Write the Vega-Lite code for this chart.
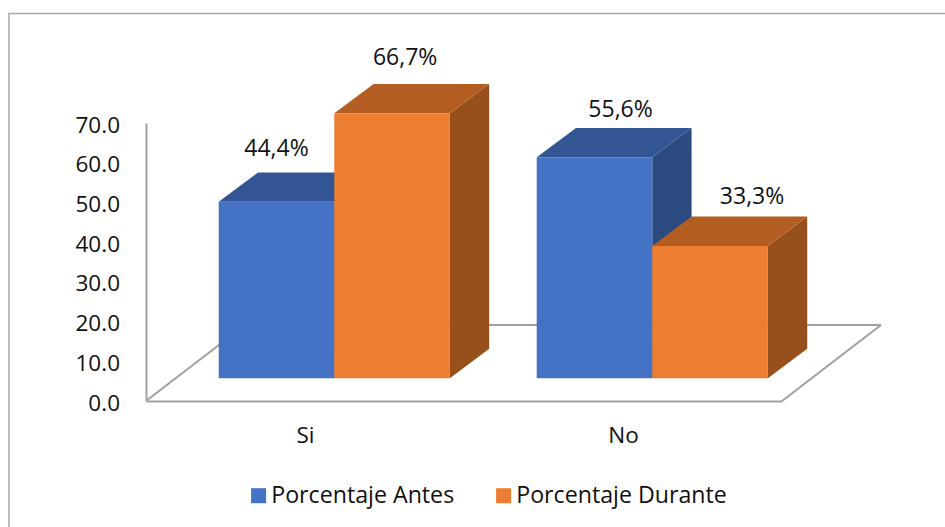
{
  "$schema": "https://vega.github.io/schema/vega-lite/v6.json",
  "width": 636,
  "height": 278,
  "autosize": "none",
  "padding": {"left": 146, "top": 123, "right": 163, "bottom": 126},
  "background": "white",
  "config": {
    "font": "Open Sans",
    "view": {"stroke": null},
    "text": {"font": "Open Sans"}
  },
  "layer": [
    {
      "description": "Value axis line, category axis and the chart frame",
      "data": {"values": [{}]},
      "mark": {"type": "rect", "fill": null, "stroke": "#a9a9a9", "strokeWidth": 1.5},
      "encoding": {
        "x": {"datum": -0.431, "type": "quantitative", "scale": {"domain": [0, 2], "nice": false, "zero": false}, "axis": {"values": [0.5, 1.5], "labelExpr": "datum.value < 1 ? 'Si' : 'No'", "title": null, "grid": false, "ticks": false, "domainColor": "#a0a0a0", "domainWidth": 2, "labelFontSize": 22.5, "labelColor": "#111111", "labelPadding": 23, "labelFont": "Open Sans"}},
        "x2": {"datum": 3},
        "y": {"datum": 97.6, "type": "quantitative", "scale": {"domain": [0, 70], "nice": false}, "axis": {"labels": false, "title": null, "grid": false, "ticks": false, "domainColor": "#a0a0a0", "domainWidth": 2}},
        "y2": {"datum": -40}
      }
    },
    {
      "description": "Value axis tick labels, one row per ten percent",
      "data": {"values": [{"marca": 0}, {"marca": 10}, {"marca": 20}, {"marca": 30}, {"marca": 40}, {"marca": 50}, {"marca": 60}, {"marca": 70}]},
      "mark": {"type": "text", "align": "right", "baseline": "middle", "dx": -26, "dy": 2.5, "fontSize": 22.5, "color": "#111111"},
      "encoding": {
        "x": {"datum": 0, "type": "quantitative"},
        "y": {"field": "marca", "type": "quantitative"},
        "text": {"field": "marca", "type": "quantitative", "format": ".1f"}
      }
    },
    {
      "description": "Floor of the 3D plot: left edge, back edge, right edge",
      "data": {"values": [{}]},
      "mark": {"type": "rule", "color": "#a0a0a0", "strokeWidth": 2},
      "encoding": {"x": {"datum": 0, "type": "quantitative"}, "x2": {"datum": 0.3113}, "y": {"datum": 0, "type": "quantitative"}, "y2": {"datum": 19.14}}
    },
    {
      "data": {"values": [{}]},
      "mark": {"type": "rule", "color": "#a0a0a0", "strokeWidth": 2},
      "encoding": {"x": {"datum": 0.3113, "type": "quantitative"}, "x2": {"datum": 2.3113}, "y": {"datum": 19.14, "type": "quantitative"}, "y2": {"datum": 19.14}}
    },
    {
      "data": {"values": [{}]},
      "mark": {"type": "rule", "color": "#a0a0a0", "strokeWidth": 2},
      "encoding": {"x": {"datum": 2, "type": "quantitative"}, "x2": {"datum": 2.3113}, "y": {"datum": 0, "type": "quantitative"}, "y2": {"datum": 19.14}}
    },
    {
      "data": {"values": [
        {"categoria": "Si", "serie": "Porcentaje Antes", "valor": 44.4},
        {"categoria": "Si", "serie": "Porcentaje Durante", "valor": 66.7},
        {"categoria": "No", "serie": "Porcentaje Antes", "valor": 55.6},
        {"categoria": "No", "serie": "Porcentaje Durante", "valor": 33.3}
      ]},
      "transform": [
        {"calculate": "datum.categoria + '|' + datum.serie", "as": "barra"},
        {"calculate": "(datum.categoria === 'Si' ? 0 : 1) + 0.2286 + (datum.serie === 'Porcentaje Antes' ? 0 : 0.3635)", "as": "izq"},
        {"calculate": "datum.izq + 0.3635", "as": "der"},
        {"calculate": "datum.valor + 5.75", "as": "techo"}
      ],
      "layer": [
        {
          "description": "Side face of each bar, sheared back by the chart depth",
          "transform": [
            {"calculate": "[0, 1]", "as": "t"},
            {"flatten": ["t"]},
            {"calculate": "datum.der + datum.t * 0.1236", "as": "px"},
            {"calculate": "datum.techo + datum.t * 7.4", "as": "py"},
            {"calculate": "5.75 + datum.t * 7.4", "as": "py2"}
          ],
          "mark": {"type": "area", "line": false},
          "encoding": {
            "x": {"field": "px", "type": "quantitative"},
            "y": {"field": "py", "type": "quantitative", "stack": null},
            "y2": {"field": "py2"},
            "detail": {"field": "barra"},
            "fill": {"condition": {"test": "datum.serie === 'Porcentaje Antes'", "value": "#2a4a80"}, "value": "#974f1c"}
          }
        },
        {
          "description": "Top face of each bar",
          "transform": [
            {"calculate": "[0, 1, 2, 3]", "as": "t"},
            {"flatten": ["t"]},
            {"calculate": "datum.t === 0 ? datum.izq : datum.t === 1 ? datum.izq + 0.1236 : datum.t === 2 ? datum.der : datum.der + 0.1236", "as": "px"},
            {"calculate": "datum.t === 0 ? datum.techo : datum.techo + 7.4", "as": "py"},
            {"calculate": "datum.t === 3 ? datum.techo + 7.4 : datum.techo", "as": "py2"}
          ],
          "mark": {"type": "area", "line": false},
          "encoding": {
            "x": {"field": "px", "type": "quantitative"},
            "y": {"field": "py", "type": "quantitative", "stack": null},
            "y2": {"field": "py2"},
            "detail": {"field": "barra"},
            "fill": {"condition": {"test": "datum.serie === 'Porcentaje Antes'", "value": "#335593"}, "value": "#b35d22"}
          }
        },
        {
          "description": "Front face of each bar",
          "transform": [{"calculate": "5.75", "as": "base"}],
          "mark": {"type": "rect"},
          "encoding": {
            "x": {"field": "izq", "type": "quantitative"},
            "x2": {"field": "der"},
            "y": {"field": "techo", "type": "quantitative"},
            "y2": {"field": "base"},
            "color": {
              "field": "serie",
              "type": "nominal",
              "scale": {"domain": ["Porcentaje Antes", "Porcentaje Durante"], "range": ["#4472c4", "#ed7d31"]},
              "legend": {
                "title": null,
                "orient": "none",
                "direction": "horizontal",
                "legendX": 101,
                "legendY": 361,
                "symbolType": "square",
                "symbolSize": 225,
                "symbolStrokeWidth": 0,
                "symbolOpacity": 1,
                "labelFontSize": 23.2,
                "labelColor": "#111111",
                "labelFont": "Open Sans",
                "labelOffset": 1,
                "labelLimit": 300,
                "columnPadding": 37
              }
            }
          }
        },
        {
          "description": "Value labels, with the decimal comma",
          "transform": [
            {"calculate": "replace(format(datum.valor, '.1f'), '.', ',') + '%'", "as": "etiqueta"},
            {"calculate": "(datum.izq + datum.der) / 2 + {'Si|Porcentaje Antes': 0, 'Si|Porcentaje Durante': 0.041, 'No|Porcentaje Antes': 0.082, 'No|Porcentaje Durante': 0.132}[datum.barra]", "as": "lx"},
            {"calculate": "datum.techo + {'Si|Porcentaje Antes': 13.2, 'Si|Porcentaje Durante': 14.0, 'No|Porcentaje Antes': 12.0, 'No|Porcentaje Durante': 12.4}[datum.barra]", "as": "ly"}
          ],
          "mark": {"type": "text", "fontSize": 23, "color": "#111111", "baseline": "middle", "align": "center"},
          "encoding": {
            "x": {"field": "lx", "type": "quantitative"},
            "y": {"field": "ly", "type": "quantitative"},
            "text": {"field": "etiqueta"}
          }
        }
      ]
    }
  ]
}
